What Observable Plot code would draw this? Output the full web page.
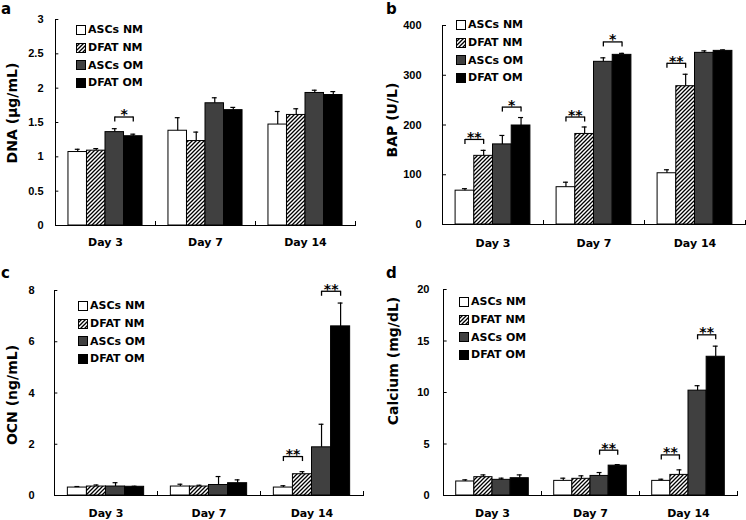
<!DOCTYPE html>
<html>
<head>
<meta charset="utf-8">
<script src="https://cdn.jsdelivr.net/npm/d3@7"></script>
<script src="https://cdn.jsdelivr.net/npm/@observablehq/plot@0.6"></script>
<style>
  html, body { margin: 0; padding: 0; background: #fff; }
  #root { position: relative; width: 746px; height: 520px; overflow: hidden; font-family: "DejaVu Sans", sans-serif; color: #000; }
  .panel { position: absolute; width: 373px; height: 260px; }
  .panel svg.plot { position: absolute; left: 0; top: 0; }
  .letter { position: absolute; font-weight: bold; font-size: 15px; line-height: 16px; }
  .ylab { position: absolute; font-weight: bold; font-size: 14px; white-space: nowrap; transform: translate(-50%, -50%) rotate(-90deg); line-height: 14px; }
  .legend { position: absolute; font-weight: bold; font-size: 11px; }
  .legend .row { height: 17.6px; display: flex; align-items: center; white-space: nowrap; }
  .legend .row svg { margin-right: 2px; flex: none; }
</style>
</head>
<body>
<svg width="0" height="0" style="position:absolute">
  <defs>
    <pattern id="hatch" patternUnits="userSpaceOnUse" width="4" height="4">
      <rect width="4" height="4" fill="#fff"></rect>
      <path d="M-1,1 l2,-2 M0,4 l4,-4 M3,5 l2,-2" stroke="#000" stroke-width="1.3"></path>
    </pattern>
  </defs>
</svg>
<div id="root"></div>
<script>
// ---------- data ----------
const days = ["Day 3", "Day 7", "Day 14"];
const groups = ["ASCs NM", "DFAT NM", "ASCs OM", "DFAT OM"];

// panel a: DNA (µg/mL) — rows = days, columns = groups
const dnaMean = [[1.07, 1.09, 1.36, 1.30], [1.38, 1.23, 1.78, 1.68], [1.47, 1.61, 1.93, 1.90]];
const dnaSD   = [[0.04, 0.03, 0.05, 0.03], [0.19, 0.13, 0.08, 0.04], [0.19, 0.09, 0.04, 0.05]];
const dnaSig  = [{day: "Day 3", from: "ASCs OM", to: "DFAT OM", y: 1.58, label: "*"}];
const dnaTicks = [0, 0.5, 1, 1.5, 2, 2.5, 3];

// panel b: BAP (U/L)
const bapMean = [[68, 138, 161, 199], [75, 182, 327, 341], [103, 278, 345, 349]];
const bapSD   = [[4, 11, 18, 16], [10, 14, 8, 3], [7, 24, 4, 2]];
const bapSig  = [
  {day: "Day 3", from: "ASCs NM", to: "DFAT NM", y: 171, label: "**"},
  {day: "Day 3", from: "ASCs OM", to: "DFAT OM", y: 236, label: "*"},
  {day: "Day 7", from: "ASCs NM", to: "DFAT NM", y: 216, label: "**"},
  {day: "Day 7", from: "ASCs OM", to: "DFAT OM", y: 367, label: "*"},
  {day: "Day 14", from: "ASCs NM", to: "DFAT NM", y: 324, label: "**"}
];
const bapTicks = [0, 100, 200, 300, 400];

// panel c: OCN (ng/mL)
const ocnMean = [[0.31, 0.35, 0.35, 0.34], [0.35, 0.35, 0.41, 0.48], [0.31, 0.83, 1.88, 6.6]];
const ocnSD   = [[0.04, 0.06, 0.15, 0.02], [0.09, 0.05, 0.33, 0.13], [0.07, 0.10, 0.90, 0.91]];
const ocnSig  = [
  {day: "Day 14", from: "ASCs NM", to: "DFAT NM", y: 1.52, label: "**"},
  {day: "Day 14", from: "ASCs OM", to: "DFAT OM", y: 7.97, label: "**"}
];
const ocnTicks = [0, 2, 4, 6, 8];

// panel d: Calcium (mg/dL)
const caMean = [[1.36, 1.78, 1.52, 1.68], [1.42, 1.62, 1.90, 2.90], [1.42, 2.00, 10.18, 13.47]];
const caSD   = [[0.16, 0.22, 0.16, 0.32], [0.26, 0.29, 0.33, 0.10], [0.16, 0.49, 0.48, 1.03]];
const caSig  = [
  {day: "Day 7", from: "ASCs OM", to: "DFAT OM", y: 4.4, label: "**"},
  {day: "Day 14", from: "ASCs NM", to: "DFAT NM", y: 3.94, label: "**"},
  {day: "Day 14", from: "ASCs OM", to: "DFAT OM", y: 15.6, label: "**"}
];
const caTicks = [0, 5, 10, 15, 20];

// ---------- style / layout ----------
const fills = ["#ffffff", "url(#hatch)", "#404040", "#000000"];
const W = 373, H = 260, OUTER = 0.7, CAP = 5;

const panels = [
  {letter: "a", mean: dnaMean, sd: dnaSD, sig: dnaSig, ticks: dnaTicks, yMax: 3, yLabel: "DNA (μg/mL)",
   left: 0, top: 0, ml: 54, mr: 17, mt: 19, mb: 35, tickPad: 12, fxPad: 13,
   letterX: 1, letterY: 1, labelX: 12, labelY: 113, legendX: 76, legendY: 30},
  {letter: "b", mean: bapMean, sd: bapSD, sig: bapSig, ticks: bapTicks, yMax: 400, yLabel: "BAP (U/L)",
   left: 373, top: 0, ml: 69, mr: 1, mt: 25, mb: 36, tickPad: 21, fxPad: 15,
   letterX: 13, letterY: 1, labelX: 19, labelY: 120, legendX: 83, legendY: 25},
  {letter: "c", mean: ocnMean, sd: ocnSD, sig: ocnSig, ticks: ocnTicks, yMax: 8, yLabel: "OCN (ng/mL)",
   left: 0, top: 260, ml: 53, mr: 9, mt: 30, mb: 25, tickPad: 20, fxPad: 14,
   letterX: 1, letterY: 5, labelX: 12, labelY: 135, legendX: 78, legendY: 46},
  {letter: "d", mean: caMean, sd: caSD, sig: caSig, ticks: caTicks, yMax: 20, yLabel: "Calcium (mg/dL)",
   left: 373, top: 260, ml: 69, mr: 9, mt: 29, mb: 25, tickPad: 14, fxPad: 14,
   letterX: 13, letterY: 5, labelX: 20, labelY: 101, legendX: 86, legendY: 42}
];

function makePanel(cfg) {
  const rows = days.flatMap((day, i) => groups.map((group, j) => ({day, group, value: cfg.mean[i][j], sd: cfg.sd[i][j]})));
  const legs = cfg.sig.flatMap(s => [{day: s.day, group: s.from, y: s.y}, {day: s.day, group: s.to, y: s.y}]);
  const innerW = W - cfg.ml - cfg.mr, innerH = H - cfg.mt - cfg.mb;
  const facetW = innerW / days.length;
  const step = facetW / (groups.length + 2 * OUTER);
  const capInset = (step - CAP) / 2;

  const chart = Plot.plot({
    width: W, height: H,
    marginLeft: cfg.ml, marginRight: cfg.mr, marginTop: cfg.mt, marginBottom: cfg.mb,
    fx: {domain: days, padding: 0, axis: null, label: null},
    x: {domain: groups, paddingInner: 0, paddingOuter: OUTER, axis: null, round: false},
    y: {domain: [0, cfg.yMax], axis: null},
    color: {domain: groups, range: fills},
    style: {fontFamily: "DejaVu Sans", fontWeight: "bold", fontSize: "11px", color: "#000", background: "transparent", overflow: "visible"},
    marks: [
      Plot.barY(rows, {fx: "day", x: "group", y: "value", fill: "group", stroke: "#000", strokeWidth: 1}),
      Plot.ruleX(rows, {fx: "day", x: "group", y1: "value", y2: d => d.value + d.sd, stroke: "#000", strokeWidth: 1.2}),
      Plot.tickY(rows, {fx: "day", x: "group", y: d => d.value + d.sd, insetLeft: capInset, insetRight: capInset, stroke: "#000", strokeWidth: 1.2}),
      Plot.frame({anchor: "bottom", stroke: "#000", strokeWidth: 1}),
      Plot.frame({anchor: "right", insetTop: innerH - 4, stroke: "#000", strokeWidth: 1}),
      Plot.frame({anchor: "left", facetAnchor: "left", stroke: "#000", strokeWidth: 1}),
      Plot.tickY(cfg.ticks, {y: d => d, facetAnchor: "left", insetRight: facetW - 4, stroke: "#000", strokeWidth: 1}),
      Plot.axisY({ticks: cfg.ticks, tickSize: 0, tickPadding: cfg.tickPad, tickFormat: d => String(d), label: null,
                  fontFamily: "Liberation Sans", fontSize: 11, fontWeight: "bold"}),
      Plot.axisFx({anchor: "bottom", tickSize: 0, tickPadding: cfg.fxPad, label: null, fontSize: 11, fontWeight: "bold"}),
      Plot.link(cfg.sig, {fx: "day", x1: "from", x2: "to", y1: "y", y2: "y", stroke: "#000", strokeWidth: 1.3}),
      Plot.ruleX(legs, {fx: "day", x: "group", y1: "y", y2: "y", insetBottom: -5, stroke: "#000", strokeWidth: 1.3}),
      Plot.text(cfg.sig, {fx: "day", x: "from", y: "y", text: "label", dx: step / 2, dy: -2, fontSize: 14, fontWeight: "bold"})
    ]
  });
  chart.classList.add("plot");
  return chart;
}

const root = document.getElementById("root");
for (const cfg of panels) {
  const div = document.createElement("div");
  div.className = "panel";
  div.style.left = cfg.left + "px";
  div.style.top = cfg.top + "px";
  div.appendChild(makePanel(cfg));

  const letter = document.createElement("div");
  letter.className = "letter";
  letter.textContent = cfg.letter;
  letter.style.left = cfg.letterX + "px";
  letter.style.top = cfg.letterY + "px";
  div.appendChild(letter);

  const ylab = document.createElement("div");
  ylab.className = "ylab";
  ylab.textContent = cfg.yLabel;
  ylab.style.left = cfg.labelX + "px";
  ylab.style.top = cfg.labelY + "px";
  div.appendChild(ylab);

  const legend = document.createElement("div");
  legend.className = "legend";
  legend.style.left = cfg.legendX + "px";
  legend.style.top = (cfg.legendY - 8.8) + "px";
  groups.forEach((g, j) => {
    const row = document.createElement("div");
    row.className = "row";
    row.innerHTML = `<svg width="10" height="10"><rect x="0.5" y="0.5" width="9" height="9" fill="${fills[j]}" stroke="#000" stroke-width="1"></rect></svg><span>${g}</span>`;
    legend.appendChild(row);
  });
  div.appendChild(legend);
  root.appendChild(div);
}
</script>
</body>
</html>
